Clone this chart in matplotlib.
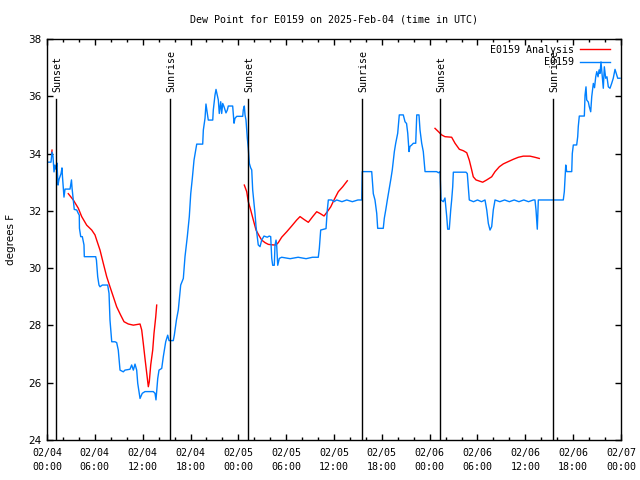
import matplotlib
matplotlib.use('Agg')
import matplotlib.pyplot as plt
from matplotlib.ticker import MultipleLocator
import matplotlib.transforms as mtransforms

# hours since 02/04 00:00 UTC
obs_hours = [0.16, 0.50, 0.63, 0.75, 0.88, 1.00, 1.13, 1.25, 1.38, 1.51, 1.76, 1.88, 1.94,
             2.13, 2.26, 2.89, 3.07, 3.14, 3.30, 3.42, 3.73, 3.93, 4.05, 4.07, 4.23, 4.43,
             4.64, 4.68, 6.11, 6.20, 6.36, 6.52, 6.65, 6.94, 7.61, 7.78, 7.90, 8.12, 8.53,
             8.74, 8.94, 9.16, 9.57, 9.78, 10.41, 10.62, 10.83, 11.04, 11.25, 11.38, 11.67,
             11.95, 12.29, 13.33, 13.55, 13.67, 13.89, 14.05, 14.39, 14.59, 14.89, 15.14,
             15.30, 15.84, 15.97, 16.24, 16.47, 16.77, 17.10, 17.31, 17.60, 17.85, 18.03,
             18.23, 18.44, 18.69, 18.78, 19.53, 19.61, 19.82, 19.94, 20.11, 20.23, 20.79,
             20.86, 21.07, 21.20, 21.36, 21.49, 21.61, 21.79, 21.91, 22.04, 22.20, 22.45,
             22.62, 22.74, 23.29, 23.46, 23.58, 23.80, 24.55, 24.62, 24.75, 24.84, 24.96,
             25.13, 25.25, 25.38, 25.55, 25.68, 25.80, 25.97, 26.09, 26.22, 26.38, 26.50,
             26.72, 26.93, 27.22, 27.63, 27.88, 28.06, 28.19, 28.31, 28.51, 28.60, 28.73,
             28.81, 28.94, 29.14, 29.44, 30.50, 31.50, 32.50, 33.30, 34.03, 34.16, 34.33,
             35.00, 35.16, 35.29, 35.71, 36.00, 36.34, 37.00, 37.60, 38.30, 39.00, 39.48,
             39.55, 40.73, 40.93, 41.14, 41.36, 41.48, 42.18, 42.31, 42.49, 42.69, 42.94,
             43.15, 43.31, 43.57, 43.74, 43.99, 44.19, 44.69, 44.91, 45.10, 45.25, 45.41,
             45.53, 45.75, 45.95, 46.25, 46.38, 46.66, 46.79, 47.00, 47.20, 47.42, 48.88,
             49.10, 49.30, 49.42, 49.71, 49.92, 50.14, 50.26, 50.46, 50.64, 50.76, 50.89,
             50.97, 52.56, 52.72, 52.85, 52.97, 53.50, 54.00, 54.50, 54.94, 55.16, 55.36,
             55.57, 55.78, 55.98, 56.20, 56.80, 57.40, 58.00, 58.60, 59.20, 59.80, 60.40,
             61.00, 61.21, 61.34, 61.50, 61.63, 61.84, 64.76, 64.89, 65.07, 65.19, 65.82,
             65.89, 66.02, 66.44, 66.57, 66.64, 66.77, 67.40, 67.49, 67.61, 67.70, 67.90,
             68.02, 68.20, 68.33, 68.53, 68.68, 68.83, 68.96, 69.12, 69.25, 69.37, 69.49,
             69.66, 69.78, 69.91, 70.08, 70.24, 70.41, 70.62, 70.83, 71.03, 71.25, 71.41,
             71.59, 71.88]
obs_dewpt = [33.70, 33.70, 34.05, 33.90, 33.36, 33.60, 33.45, 33.67, 32.90, 33.10, 33.30, 33.50, 33.20,
             32.48, 32.76, 32.76, 33.08, 32.80, 32.38, 32.05, 32.03, 31.91, 31.85, 31.39, 31.10, 31.10,
             30.81, 30.40, 30.40, 30.28, 29.70, 29.41, 29.35, 29.41, 29.41, 29.12, 28.19, 27.43, 27.43,
             27.40, 27.14, 26.44, 26.38, 26.44, 26.47, 26.62, 26.44, 26.65, 26.44, 25.98, 25.45,
             25.63, 25.69, 25.69, 25.63, 25.40, 26.15, 26.44, 26.50, 26.91, 27.43, 27.66,
             27.47, 27.47, 27.66, 28.20, 28.54, 29.41, 29.64, 30.40, 31.10, 31.80, 32.60,
             33.14, 33.77, 34.18, 34.33, 34.33, 34.82, 35.23, 35.73, 35.40, 35.17, 35.17,
             35.52, 36.04, 36.24, 36.04, 35.87, 35.40, 35.81, 35.40, 35.75, 35.64, 35.42,
             35.52, 35.66, 35.66, 35.06, 35.23, 35.30, 35.30, 35.52, 35.66, 35.35, 35.17,
             34.53, 34.18, 33.66, 33.50, 33.43, 32.73, 32.26, 31.91, 31.45, 31.10, 30.81,
             30.75, 30.98, 31.12, 31.08, 31.12, 31.10, 30.34, 30.10, 30.10, 30.80, 30.98,
             30.80, 30.10, 30.34, 30.38, 30.33, 30.38, 30.33, 30.38, 30.38, 30.69, 31.33,
             31.38, 32.03, 32.38, 32.38, 32.32, 32.38, 32.32, 32.38, 32.32, 32.38, 32.38,
             33.37, 33.37, 32.60, 32.38, 31.91, 31.39, 31.39, 31.74, 32.03, 32.38, 32.79,
             33.14, 33.43, 34.07, 34.36, 34.71, 35.35, 35.35, 35.11, 35.05, 34.71, 34.07,
             34.25, 34.30, 34.36, 34.36, 35.35, 35.35, 34.82, 34.36, 34.07, 33.37, 33.37,
             33.33, 33.37, 32.38, 32.32, 32.45, 31.80, 31.36, 31.36, 32.03, 32.38, 32.84,
             33.35, 33.35, 33.30, 32.84, 32.38, 32.32, 32.38, 32.32, 32.38, 32.03, 31.56,
             31.33, 31.45, 32.03, 32.38, 32.32, 32.38, 32.32, 32.38, 32.32, 32.38, 32.32,
             32.38, 32.38, 32.03, 31.36, 32.38, 32.38, 32.38, 32.67, 33.60, 33.37, 33.37,
             34.00, 34.30, 34.30, 34.59, 34.94, 35.31, 35.31, 36.04, 36.33, 35.87, 35.80,
             35.64, 35.46, 35.99, 36.45, 36.30, 36.68, 36.86, 36.68, 36.92, 36.80, 37.20,
             36.68, 36.28, 37.03, 36.63, 36.68, 36.33, 36.28, 36.45, 36.63, 36.94, 36.80,
             36.63, 36.63]

# analysis comes in separate runs
ana_hours = [
    [0.58, 0.63],
    [2.67, 3.30, 3.93, 4.35, 4.98, 5.61, 6.02, 6.23, 6.65, 7.06, 7.49, 7.90, 8.32, 8.74,
     9.24, 9.66, 10.20, 10.83, 11.67, 11.88, 12.08, 12.29, 12.51, 12.71, 12.83, 13.01,
     13.26, 13.42, 13.64, 13.76],
    [24.75, 25.05, 25.25, 25.55, 25.88, 26.22, 26.63, 26.93, 27.35, 27.76, 28.39, 28.73,
     29.01, 29.44, 30.07, 30.69, 31.32, 31.74, 32.24, 32.78, 33.33, 33.83, 34.24, 34.75,
     35.16, 35.59, 36.00, 36.54, 37.09, 37.67],
    [48.67, 49.08, 49.51, 49.92, 50.76, 51.18, 51.72, 52.22, 52.65, 52.97, 53.27, 53.47,
     53.81, 54.23, 54.65, 55.16, 55.78, 56.20, 56.74, 57.24, 57.86, 58.49, 59.12, 59.74,
     60.59, 61.21, 61.75],
]
ana_dewpt = [
    [34.00, 34.12],
    [32.60, 32.38, 32.09, 31.80, 31.50, 31.33, 31.16, 30.98, 30.63, 30.17, 29.70, 29.35,
     29.00, 28.65, 28.36, 28.13, 28.05, 28.01, 28.05, 27.84, 27.37, 26.85, 26.33, 25.86,
     26.03, 26.62, 27.14, 27.72, 28.30, 28.71],
    [32.90, 32.67, 32.32, 32.03, 31.68, 31.33, 31.12, 30.98, 30.89, 30.83, 30.81, 30.81,
     30.89, 31.08, 31.27, 31.47, 31.68, 31.80, 31.70, 31.60, 31.80, 31.97, 31.91, 31.82,
     31.97, 32.14, 32.38, 32.67, 32.84, 33.05],
    [34.88, 34.77, 34.65, 34.59, 34.57, 34.36, 34.15, 34.10, 34.03, 33.77, 33.43, 33.19,
     33.08, 33.04, 33.00, 33.08, 33.19, 33.37, 33.54, 33.64, 33.72, 33.80, 33.87, 33.91,
     33.91, 33.87, 33.83],
]

sun_hours = [1.17, 15.47, 25.25, 39.55, 49.34, 63.51]
sun_labels = ['Sunset', 'Sunrise', 'Sunset', 'Sunrise', 'Sunset', 'Sunrise']

tick_hours = list(range(0, 73, 6))
tick_labels = ['02/04\n00:00', '02/04\n06:00', '02/04\n12:00', '02/04\n18:00',
               '02/05\n00:00', '02/05\n06:00', '02/05\n12:00', '02/05\n18:00',
               '02/06\n00:00', '02/06\n06:00', '02/06\n12:00', '02/06\n18:00',
               '02/07\n00:00']

mono = 'DejaVu Sans Mono'

fig = plt.figure(figsize=(6.4, 4.8), dpi=100)
ax = fig.add_axes([47/640, 40/480, 574/640, 401/480])

for i, (h, v) in enumerate(zip(ana_hours, ana_dewpt)):
    ax.plot(h, v, color='#ff0000', lw=1.0, label='E0159 Analysis' if i == 0 else None)
ax.plot(obs_hours, obs_dewpt, color='#0080ff', lw=1.0, label='E0159')

trans = mtransforms.blended_transform_factory(ax.transData, ax.transAxes)
for h, lab in zip(sun_hours, sun_labels):
    ax.axvline(h, ymin=0, ymax=0.85, color='black', lw=1.0)
    ax.text(h + 0.15, 0.868, lab, transform=trans, rotation=90, ha='center',
            va='bottom', family=mono, fontsize=7.2)

ax.set_xlim(0, 72)
ax.set_ylim(24, 38)
ax.set_xticks(tick_hours)
ax.set_xticklabels(tick_labels, family=mono, fontsize=7.2, linespacing=1.45)
ax.xaxis.set_minor_locator(MultipleLocator(2))
ax.set_yticks(range(24, 39, 2))
for t in ax.get_yticklabels():
    t.set_fontsize(7.5)
ax.tick_params(which='both', direction='in', top=True, right=True, width=1.0)
ax.tick_params(which='major', length=4.5, pad=4)
ax.tick_params(axis='x', which='major', pad=6)
ax.tick_params(which='minor', length=2.5)
for s in ax.spines.values():
    s.set_linewidth(1.0)

ax.set_ylabel('degrees F', fontsize=7.5, labelpad=9)
ax.set_title('Dew Point for E0159 on 2025-Feb-04 (time in UTC)', family=mono,
             fontsize=7.2, pad=12)

leg = ax.legend(loc='upper right', frameon=False, markerfirst=False,
                prop={'family': mono, 'size': 7.2}, handlelength=3.0,
                bbox_to_anchor=(1 - 5/574, 1),
                borderaxespad=0.2, labelspacing=0.25, handletextpad=0.6)
for t in leg.get_texts():
    t.set_ha('right')

fig.savefig('out.png', dpi=100)
